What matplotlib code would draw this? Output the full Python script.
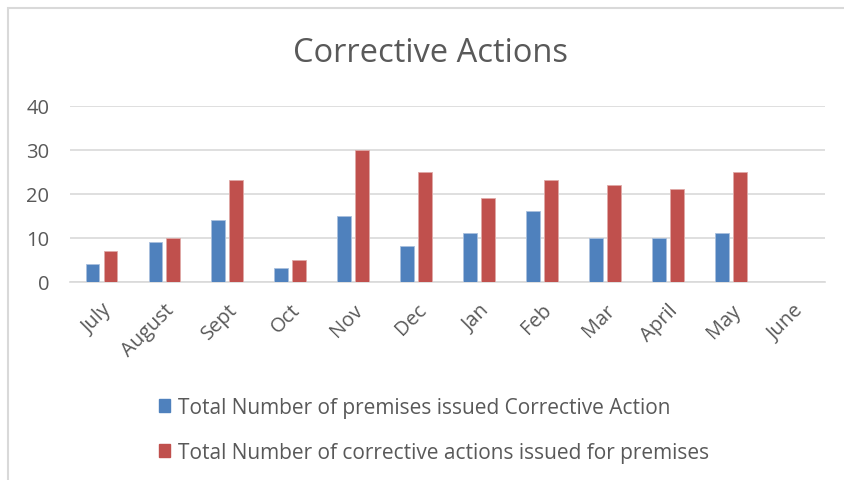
import matplotlib.pyplot as plt
import matplotlib.patches as mpatches
import numpy as np

plt.rcParams['font.family'] = ['Open Sans', 'DejaVu Sans']

months = ['July', 'August', 'Sept', 'Oct', 'Nov', 'Dec', 'Jan', 'Feb', 'Mar', 'April', 'May', 'June']
premises = [4, 9, 14, 3, 15, 8, 11, 16, 10, 10, 11, 0]
actions = [7, 10, 23, 5, 30, 25, 19, 23, 22, 21, 25, 0]
labels = ['Total Number of premises issued Corrective Action',
          'Total Number of corrective actions issued for premises']

blue = '#4F81BD'
red = '#C0504D'
grey = '#595959'

fig = plt.figure(figsize=(8.44, 4.81), dpi=100)
ax = fig.add_axes([0.083, 0.4125, 0.8945, 0.366])

x = np.arange(len(months))
w = 0.22
ax.bar(x - 0.143, premises, w, color=blue, edgecolor='#A9C0DE', linewidth=0.6, zorder=3)
ax.bar(x + 0.143, actions, w, color=red, edgecolor='#E0A9A7', linewidth=0.6, zorder=3)

ax.set_xlim(-0.5, len(months) - 0.5)
ax.set_ylim(0, 40)
ax.set_yticks([0, 10, 20, 30, 40])
ax.grid(axis='y', color='#D9D9D9', linewidth=1.2, zorder=0)
for s in ['top', 'right', 'left']:
    ax.spines[s].set_visible(False)
ax.spines['bottom'].set_color('#D9D9D9')
ax.spines['bottom'].set_linewidth(1.2)
ax.tick_params(axis='both', length=0, colors=grey, labelsize=14.5)
ax.tick_params(axis='y', pad=15)
ax.set_xticks(x)
ax.set_xticklabels(months, rotation=45, ha='right', rotation_mode='anchor')
ax.tick_params(axis='x', pad=13)

fig.text(0.51, 1 - 62 / 481, 'Corrective Actions', ha='center', va='baseline', fontsize=23.5, color=grey)

handles = [mpatches.Patch(color=blue), mpatches.Patch(color=red)]
fig.legend(handles, labels, loc='upper left', bbox_to_anchor=(159 / 844, 0.173), frameon=False,
           fontsize=15, labelcolor=grey, handlelength=0.55, handleheight=0.55,
           handletextpad=0.38, labelspacing=1.15, borderpad=0, borderaxespad=0)

# outer chart border (only top and left visible in the reference)
fig.add_artist(mpatches.Rectangle((8 / 844, -0.1), 1.2, 1 - 9 / 481 + 0.1, transform=fig.transFigure,
                                  fill=False, edgecolor='#D9D9D9', linewidth=1.5))

fig.savefig('out.png', dpi=100)
